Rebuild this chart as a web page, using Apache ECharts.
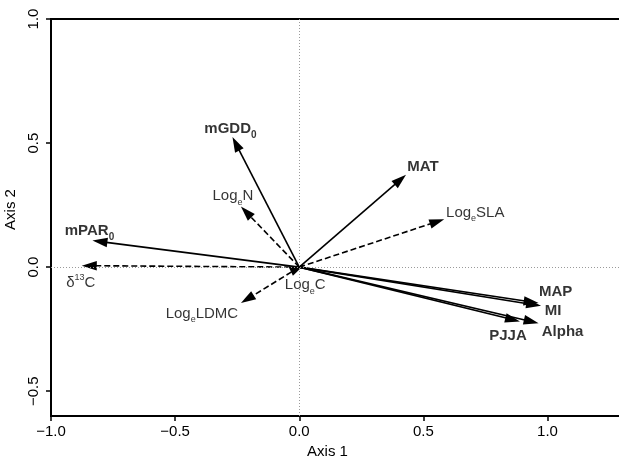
<!DOCTYPE html>
<html><head><meta charset="utf-8">
<script src="https://cdn.jsdelivr.net/npm/echarts@6/dist/echarts.min.js"></script>
<style>html,body{margin:0;padding:0;background:#fff}#c{width:619px;height:456px}</style>
</head><body><div id="c"></div>
<script>
// ---- data ----
const names  = ['mGDD0','MAT','LogeSLA','LogeN','mPAR0','d13C','LogeLDMC','LogeC','MAP','MI','PJJA','Alpha'];
const axis1  = [-0.269, 0.430, 0.584, -0.235, -0.833, -0.876, -0.235, 0.020, 0.964, 0.974, 0.889, 0.964];
const axis2  = [ 0.524, 0.372, 0.193,  0.244,  0.107,  0.006, -0.145, 0.010, -0.145, -0.156, -0.219, -0.226];
const kinds  = ['env','env','trait','trait','env','trait','trait','trait','env','env','env','env'];
const labelText = [
  '{b|mGDD}{z|0}', '{b|MAT}', '{m|Log}{e|e}{m|SLA}', '{m|Log}{e|e}{m|N}', '{b|mPAR}{z|0}',
  '{n|δ}{u|13}{n|C}', '{m|Log}{e|e}{m|LDMC}', '{m|Log}{e|e}{m|C}',
  '{b|MAP}', '{b|MI}', '{b|PJJA}', '{b|Alpha}'
];
const xTicks = [-1.0, -0.5, 0.0, 0.5, 1.0];
const yTicks = [-0.5, 0.0, 0.5, 1.0];

// ---- styles ----
const FONT = "'Liberation Sans', Arial, Helvetica, sans-serif";
const LABEL_OFFSET = [[-2,-16],[17,-15],[31,-14],[-8,-18],[-3,-17],[-1,7],[-39,3],[1,13],[17,-19],[12,-2],[-12,7],[24,1]];
const HEAD_LEN = 15, HEAD_W = 4.8;
const fmt = v => (Math.abs(v) < 1e-9 ? '0.0' : v.toFixed(1).replace('-', '\u2212'));

const rich = {
  m: {fontSize: 15, lineHeight: 16, verticalAlign: 'top', color: '#000', fontFamily: FONT},
  n: {fontSize: 15, lineHeight: 16, verticalAlign: 'bottom', color: '#000', fontFamily: FONT},
  b: {fontSize: 15, lineHeight: 16, verticalAlign: 'top', fontWeight: 'bold', color: '#000', fontFamily: FONT},
  e: {fontSize: 9, lineHeight: 18, verticalAlign: 'bottom', color: '#000', fontFamily: FONT},
  z: {fontSize: 10, lineHeight: 19, verticalAlign: 'bottom', fontWeight: 'bold', color: '#000', fontFamily: FONT},
  u: {fontSize: 9, lineHeight: 18, verticalAlign: 'top', color: '#000', fontFamily: FONT}
};

const pts = axis1.map((x, i) => [x, axis2[i]]);

const chart = echarts.init(document.getElementById('c'));
chart.setOption({
  animation: false,
  textStyle: {fontFamily: FONT},
  grid: {left: 51, top: 19, width: 571, height: 397, show: true, borderColor: '#000', borderWidth: 2,
         containLabel: false, outerBoundsMode: 'none'},
  xAxis: {
    type: 'value', min: -1.0, max: 1.3,
    name: 'Axis 1', nameLocation: 'middle', nameGap: 26,
    nameTextStyle: {fontSize: 15, color: '#000', fontFamily: FONT, padding: [0, 18, 0, 0]},
    axisLine: {show: true, onZero: false, lineStyle: {color: '#000', width: 2}},
    axisTick: {show: true, length: 5, customValues: xTicks, lineStyle: {color: '#000', width: 1.5}},
    axisLabel: {customValues: xTicks, formatter: fmt, fontSize: 15, color: '#000', margin: 8, fontFamily: FONT},
    splitLine: {show: false}
  },
  yAxis: {
    type: 'value', min: -0.6, max: 1.0,
    name: 'Axis 2', nameLocation: 'middle', nameGap: 24, nameRotate: 90,
    nameTextStyle: {fontSize: 15, color: '#000', fontFamily: FONT, padding: [0, 0, 0, 16]},
    axisLine: {show: true, onZero: false, lineStyle: {color: '#000', width: 2}},
    axisTick: {show: true, length: 5, customValues: yTicks, lineStyle: {color: '#000', width: 1.5}},
    axisLabel: {customValues: yTicks, formatter: fmt, rotate: 90, fontSize: 15, color: '#000', margin: 10, fontFamily: FONT},
    splitLine: {show: false}
  },
  series: [
    {
      type: 'scatter', z: 1, symbolSize: 0, silent: true,
      data: pts.map((p, i) => ({value: p, label: {offset: LABEL_OFFSET[i]}})),
      label: {
        show: true, position: 'inside', align: 'center', verticalAlign: 'top', color: '#000',
        formatter: p => labelText[p.dataIndex], rich: rich
      },
      markLine: {
        silent: true, symbol: ['none', 'none'], label: {show: false},
        lineStyle: {color: '#9a9a9a', type: [1, 2], width: 1},
        data: [{xAxis: 0}, {yAxis: 0}]
      }
    },
    {
      type: 'custom', z: 3, silent: true,
      data: pts,
      encode: {x: 0, y: 1},
      renderItem: function (params, api) {
        const i = params.dataIndex;
        const p0 = api.coord([0, 0]);
        const p1 = api.coord([api.value(0), api.value(1)]);
        const dx = p1[0] - p0[0], dy = p1[1] - p0[1];
        const L = Math.hypot(dx, dy) || 1;
        const ux = dx / L, uy = dy / L;
        const bx = p1[0] - ux * HEAD_LEN, by = p1[1] - uy * HEAD_LEN;
        const dashed = kinds[i] === 'trait';
        return {
          type: 'group',
          children: [
            {type: 'line', shape: {x1: p0[0], y1: p0[1], x2: bx + ux * 3, y2: by + uy * 3},
             style: {stroke: '#000', lineWidth: 1.6, lineDash: dashed ? [6, 3] : null}},
            {type: 'polygon', shape: {points: [[p1[0], p1[1]], [bx - uy * HEAD_W, by + ux * HEAD_W], [bx + uy * HEAD_W, by - ux * HEAD_W]]},
             style: {fill: '#000'}}
          ]
        };
      }
    }
  ]
});
</script></body></html>
